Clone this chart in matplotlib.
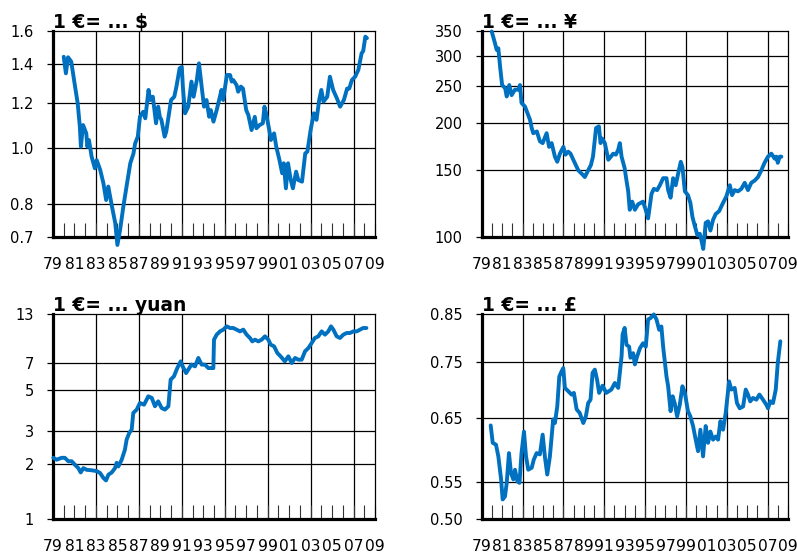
import matplotlib
matplotlib.use("Agg")
import matplotlib.pyplot as plt
from matplotlib.ticker import FixedLocator, NullLocator, FixedFormatter

plt.rcParams['font.family'] = ['DejaVu Sans']

# ---- exchange rates: 1 euro (ECU before 1999) in foreign currency ----
usd_years = [1980.0, 1980.2, 1980.4, 1980.7, 1981.0, 1981.3, 1981.5, 1981.6, 1981.8, 1982.1,
             1982.2, 1982.35, 1982.6, 1982.9, 1983.07, 1983.4, 1983.7, 1983.95, 1984.15, 1984.5,
             1984.8, 1985.0, 1985.25, 1985.55, 1985.85, 1986.2, 1986.5, 1986.65, 1986.9, 1987.1,
             1987.4, 1987.6, 1987.9, 1988.05, 1988.3, 1988.6, 1988.8, 1988.95, 1989.1, 1989.4,
             1989.55, 1990.0, 1990.3, 1990.5, 1990.8, 1991.0, 1991.1, 1991.3, 1991.6, 1991.9,
             1992.1, 1992.4, 1992.6, 1992.85, 1993.07, 1993.3, 1993.55, 1993.7, 1993.95, 1994.25,
             1994.55, 1994.7, 1994.85, 1995.2, 1995.5, 1995.65, 1995.8, 1996.1, 1996.25, 1996.5,
             1996.7, 1997.0, 1997.2, 1997.5, 1997.8, 1997.95, 1998.25, 1998.55, 1998.7, 1998.85,
             1999.15, 1999.3, 1999.6, 1999.8, 2000.1, 2000.35, 2000.5, 2000.7, 2000.9, 2001.15,
             2001.35, 2001.65, 2001.85, 2002.2, 2002.5, 2002.7, 2003.0, 2003.3, 2003.55, 2003.8,
             2004.0, 2004.2, 2004.55, 2004.8, 2005.1, 2005.45, 2005.75, 2006.1, 2006.4, 2006.6,
             2006.85, 2007.15, 2007.45, 2007.75, 2007.9, 2008.1, 2008.25]
usd_rate = [1.443, 1.35, 1.44, 1.415, 1.30, 1.197, 1.09, 1.006, 1.097, 1.061,
            1.006, 1.033, 0.966, 0.922, 0.953, 0.916, 0.868, 0.812, 0.857, 0.79,
            0.74, 0.678, 0.72, 0.79, 0.857, 0.941, 0.979, 1.019, 1.047, 1.134,
            1.157, 1.127, 1.263, 1.213, 1.229, 1.105, 1.181, 1.134, 1.12, 1.047,
            1.068, 1.213, 1.229, 1.28, 1.378, 1.385, 1.28, 1.15, 1.181, 1.306,
            1.229, 1.314, 1.405, 1.28, 1.181, 1.213, 1.134, 1.165, 1.112, 1.165,
            1.229, 1.263, 1.213, 1.341, 1.341, 1.306, 1.314, 1.288, 1.254, 1.28,
            1.27, 1.165, 1.142, 1.075, 1.134, 1.083, 1.097, 1.105, 1.181, 1.15,
            1.075, 1.033, 1.061, 1.006, 0.953, 0.904, 0.941, 0.851, 0.941, 0.88,
            0.851, 0.91, 0.88, 0.874, 0.979, 0.986, 1.075, 1.15, 1.12, 1.213,
            1.263, 1.205, 1.229, 1.332, 1.263, 1.221, 1.181, 1.213, 1.27, 1.27,
            1.314, 1.332, 1.369, 1.463, 1.476, 1.564, 1.555]

jpy_years = [1979.98, 1980.3, 1980.47, 1980.63, 1980.8, 1981.0, 1981.3, 1981.45, 1981.7, 1981.93,
             1982.26, 1982.6, 1982.75, 1982.9, 1983.24, 1983.73, 1983.9, 1984.05, 1984.4, 1984.7,
             1984.97, 1985.36, 1985.6, 1985.85, 1986.17, 1986.4, 1986.66, 1987.0, 1987.2, 1987.48,
             1987.7, 1987.97, 1988.46, 1988.9, 1989.1, 1989.43, 1989.7, 1989.9, 1990.2, 1990.48,
             1990.64, 1990.8, 1991.06, 1991.4, 1991.65, 1991.88, 1992.14, 1992.37, 1992.53, 1992.7,
             1993.0, 1993.18, 1993.35, 1993.5, 1993.74, 1994.0, 1994.32, 1994.8, 1995.15, 1995.3,
             1995.63, 1995.86, 1996.18, 1996.45, 1996.77, 1997.1, 1997.26, 1997.5, 1997.75, 1998.0,
             1998.24, 1998.5, 1998.66, 1998.9, 1999.2, 1999.44, 1999.64, 1999.87, 2000.13, 2000.36,
             2000.52, 2000.7, 2000.94, 2001.17, 2001.4, 2001.66, 2001.92, 2002.25, 2002.57, 2002.96,
             2003.3, 2003.52, 2003.78, 2004.1, 2004.43, 2004.76, 2005.08, 2005.4, 2005.74, 2006.06,
             2006.39, 2006.7, 2007.04, 2007.37, 2007.7, 2007.86, 2008.0, 2008.18, 2008.35]
jpy_rate = [349, 325, 312, 315, 282, 252, 247, 235, 252, 237,
            245, 245, 252, 226, 221, 204, 194, 188, 190, 179,
            177, 188, 173, 177, 163, 158, 166, 173, 165, 168,
            166, 160, 150, 146, 144, 150, 155, 163, 194, 196,
            177, 182, 177, 160, 163, 166, 165, 170, 177, 163,
            152, 141, 132, 118, 124, 118, 122, 124, 116, 112,
            130, 134, 133, 137, 143, 143, 133, 127, 143, 137,
            147, 158, 153, 132, 129, 123, 113, 107, 101, 102,
            98, 93, 109, 110, 104, 111, 115, 117, 122, 128,
            137, 129, 133, 132, 134, 139, 133, 139, 141, 144,
            150, 157, 163, 166, 161, 163, 157, 163, 163]

cny_years = [1979.03, 1979.34, 1979.8, 1980.1, 1980.43, 1980.74, 1981.05, 1981.36, 1981.58, 1981.83,
             1982.14, 1982.6, 1983.07, 1983.38, 1983.7, 1983.94, 1984.16, 1984.47, 1984.78, 1984.93,
             1985.09, 1985.4, 1985.7, 1985.86, 1986.1, 1986.33, 1986.48, 1986.8, 1987.1, 1987.48,
             1987.88, 1988.2, 1988.5, 1988.8, 1989.12, 1989.43, 1989.75, 1989.96, 1990.27, 1990.58,
             1990.9, 1991.08, 1991.4, 1991.9, 1992.23, 1992.54, 1992.85, 1993.16, 1993.47, 1993.7,
             1993.94, 1994.0, 1994.25, 1994.56, 1994.87, 1995.18, 1995.5, 1995.8, 1996.1, 1996.42,
             1996.73, 1997.04, 1997.35, 1997.57, 1997.82, 1998.13, 1998.44, 1998.75, 1999.06, 1999.28,
             1999.6, 1999.9, 2000.2, 2000.6, 2000.93, 2001.24, 2001.55, 2001.86, 2002.17, 2002.48,
             2002.8, 2003.1, 2003.4, 2003.72, 2004.03, 2004.34, 2004.65, 2004.9, 2005.12, 2005.43,
             2005.74, 2006.05, 2006.36, 2006.67, 2006.98, 2007.3, 2007.6, 2007.9, 2008.2]
cny_rate = [2.15, 2.10, 2.15, 2.15, 2.06, 2.06, 1.97, 1.89, 1.79, 1.89,
            1.85, 1.84, 1.82, 1.78, 1.67, 1.62, 1.74, 1.79, 1.89, 2.02,
            1.93, 2.10, 2.38, 2.70, 2.93, 3.06, 3.77, 3.93, 4.27, 4.18,
            4.64, 4.55, 4.10, 4.36, 4.01, 3.93, 4.10, 5.72, 5.96, 6.61,
            7.19, 6.75, 6.21, 6.90, 6.75, 7.50, 6.90, 6.90, 6.61, 6.61,
            6.61, 9.43, 10.04, 10.46, 10.69, 11.14, 10.91, 10.91, 10.69, 10.46,
            10.69, 10.04, 9.63, 9.23, 9.43, 9.23, 9.43, 9.83, 9.43, 8.86,
            8.67, 7.98, 7.66, 7.19, 7.66, 7.04, 7.50, 7.34, 7.34, 8.15,
            8.50, 9.04, 9.63, 9.83, 10.46, 10.04, 10.46, 11.14, 10.69, 9.83,
            9.63, 10.04, 10.25, 10.25, 10.46, 10.46, 10.69, 10.91, 10.91]

gbp_years = [1979.88, 1980.08, 1980.4, 1980.63, 1980.9, 1981.05, 1981.28, 1981.45, 1981.67, 1981.87,
             1982.1, 1982.26, 1982.5, 1982.7, 1982.9, 1983.14, 1983.34, 1983.56, 1983.9, 1984.1,
             1984.38, 1984.7, 1984.97, 1985.2, 1985.42, 1985.68, 1986.0, 1986.17, 1986.4, 1986.6,
             1986.83, 1986.99, 1987.15, 1987.48, 1987.8, 1988.03, 1988.3, 1988.6, 1988.95, 1989.2,
             1989.43, 1989.66, 1989.86, 1990.08, 1990.3, 1990.5, 1990.84, 1991.2, 1991.7, 1992.04,
             1992.37, 1992.7, 1992.8, 1993.0, 1993.18, 1993.44, 1993.57, 1993.83, 1994.0, 1994.23,
             1994.5, 1994.8, 1995.07, 1995.3, 1995.53, 1995.86, 1996.12, 1996.38, 1996.6, 1996.77,
             1997.1, 1997.26, 1997.5, 1997.7, 1997.9, 1998.14, 1998.4, 1998.66, 1998.9, 1999.2,
             1999.44, 1999.7, 1999.96, 2000.19, 2000.42, 2000.68, 2000.94, 2001.17, 2001.4, 2001.66,
             2001.92, 2002.15, 2002.38, 2002.64, 2002.9, 2003.23, 2003.45, 2003.78, 2004.0, 2004.27,
             2004.6, 2004.86, 2005.08, 2005.3, 2005.57, 2005.9, 2006.2, 2006.55, 2006.88, 2007.04,
             2007.27, 2007.53, 2007.8, 2008.0, 2008.25]
gbp_rate = [0.637, 0.609, 0.606, 0.588, 0.554, 0.526, 0.530, 0.549, 0.593, 0.563,
            0.554, 0.568, 0.551, 0.549, 0.593, 0.627, 0.588, 0.568, 0.571, 0.583,
            0.593, 0.591, 0.622, 0.586, 0.561, 0.588, 0.647, 0.641, 0.669, 0.723,
            0.733, 0.739, 0.702, 0.696, 0.690, 0.693, 0.664, 0.658, 0.641, 0.652,
            0.675, 0.681, 0.730, 0.736, 0.717, 0.693, 0.706, 0.693, 0.699, 0.711,
            0.702, 0.762, 0.806, 0.820, 0.785, 0.781, 0.759, 0.768, 0.746, 0.762,
            0.778, 0.788, 0.781, 0.838, 0.841, 0.849, 0.838, 0.816, 0.823, 0.781,
            0.723, 0.705, 0.661, 0.687, 0.675, 0.652, 0.672, 0.705, 0.693, 0.661,
            0.652, 0.636, 0.614, 0.596, 0.630, 0.588, 0.636, 0.609, 0.627, 0.614,
            0.619, 0.614, 0.644, 0.630, 0.658, 0.714, 0.699, 0.702, 0.675, 0.666,
            0.669, 0.699, 0.690, 0.678, 0.684, 0.681, 0.690, 0.681, 0.672, 0.666,
            0.678, 0.675, 0.699, 0.749, 0.792]

usd_ticks = [0.7, 0.8, 1.0, 1.2, 1.4, 1.6]
usd_labels = ['0.7', '0.8', '1.0', '1.2', '1.4', '1.6']
jpy_ticks = [100, 150, 200, 250, 300, 350]
jpy_labels = ['100', '150', '200', '250', '300', '350']
cny_ticks = [1, 2, 3, 5, 7, 13]
cny_labels = ['1', '2', '3', '5', '7', '13']
gbp_ticks = [0.50, 0.55, 0.65, 0.75, 0.85]
gbp_labels = ['0.50', '0.55', '0.65', '0.75', '0.85']

year_labels = ['79', '81', '83', '85', '87', '89', '91', '93', '95', '97',
               '99', '01', '03', '05', '07', '09']
label_years = list(range(1979, 2010, 2))
grid_years = list(range(1983, 2009, 4))

LINE = '#0070C0'
W, H = 797, 554
fig = plt.figure(figsize=(W / 100, H / 100), dpi=100)


def px_axes(x0, y0, x1, y1):
    return fig.add_axes([x0 / W, 1 - y1 / H, (x1 - x0) / W, (y1 - y0) / H])


def panel(ax, years, rate, ticks, labels, title):
    ax.set_yscale('log')
    ax.set_xlim(1979, 2009)
    ax.set_ylim(ticks[0], ticks[-1])
    ax.plot(years, rate, color=LINE, lw=2.8, clip_on=False,
            solid_joinstyle='round', solid_capstyle='round', zorder=5)

    ax.yaxis.set_major_locator(FixedLocator(ticks))
    ax.yaxis.set_major_formatter(FixedFormatter(labels))
    ax.yaxis.set_minor_locator(NullLocator())
    ax.tick_params(axis='y', direction='out', length=4.3, width=0.9,
                   pad=9.5, labelsize=10.5, colors='black')

    ax.xaxis.set_major_locator(FixedLocator(label_years))
    ax.xaxis.set_major_formatter(FixedFormatter(year_labels))
    ax.xaxis.set_minor_locator(FixedLocator(list(range(1980, 2009, 2))))
    ax.tick_params(axis='x', which='both', direction='in', length=10,
                   width=0.8, color='#333333')
    ax.tick_params(axis='x', which='major', pad=14.5, labelsize=11.2)

    for t in ticks[1:-1]:
        ax.axhline(t, color='black', lw=0.9, zorder=1)
    for yr in grid_years:
        ax.axvline(yr, color='black', lw=0.9, zorder=1)

    for side in ('left', 'bottom'):
        ax.spines[side].set_linewidth(2.3)
    for side in ('top', 'right'):
        ax.spines[side].set_linewidth(0.9)
    for s in ax.spines.values():
        s.set_color('black')
        s.set_zorder(4)

    ax.annotate(title, xy=(0, 1), xycoords='axes fraction',
                xytext=(0, 2), textcoords='offset points',
                ha='left', va='baseline', fontsize=13.4, fontweight='bold')


ax_usd = px_axes(53, 31, 375, 237)
ax_jpy = px_axes(481.7, 31, 788, 237)
ax_cny = px_axes(53, 314, 375, 519)
ax_gbp = px_axes(481.7, 314, 788, 519)

panel(ax_usd, usd_years, usd_rate, usd_ticks, usd_labels, '1 €= ... $')
panel(ax_jpy, jpy_years, jpy_rate, jpy_ticks, jpy_labels, '1 €= ... ¥')
panel(ax_cny, cny_years, cny_rate, cny_ticks, cny_labels, '1 €= ... yuan')
panel(ax_gbp, gbp_years, gbp_rate, gbp_ticks, gbp_labels, '1 €= ... £')

fig.savefig('out.png', dpi=100)
